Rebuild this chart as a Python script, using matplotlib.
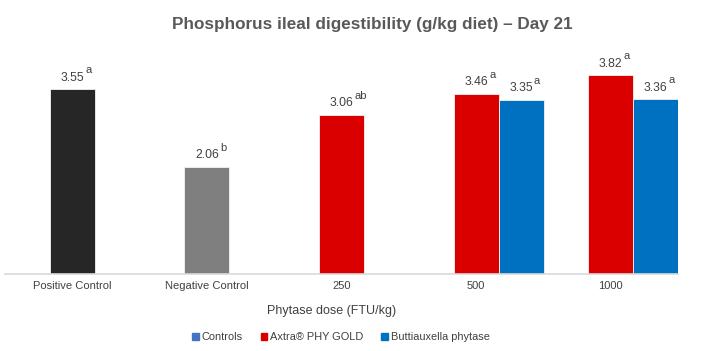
import numpy as np
import matplotlib.pyplot as plt
from matplotlib.patches import Patch

plt.rcParams['font.family'] = ['Liberation Sans', 'DejaVu Sans']

categories = ["Positive Control", "Negative Control", "250", "500", "1000"]
controls = [3.55, 2.06, np.nan, np.nan, np.nan]
controls_sig = ["a", "b", "", "", ""]
axtra = [np.nan, np.nan, 3.06, 3.46, 3.82]
axtra_sig = ["", "", "ab", "a", "a"]
butti = [np.nan, np.nan, np.nan, 3.35, 3.36]
butti_sig = ["", "", "", "a", "a"]

ctrl_colors = ["#262626", "#7f7f7f", "#262626", "#262626", "#262626"]
red = "#da0000"
blue = "#0070c0"
txt = "#404040"

fig = plt.figure(figsize=(7.17, 3.51), dpi=100)
ax = fig.add_axes([5 / 717, 77 / 351, 673 / 717, 218 / 351])

x = np.arange(len(categories))
w = 0.334
edge = dict(edgecolor="#f2f2f2", linewidth=0.6)
ax.bar(x, controls, w, color=ctrl_colors, **edge)
ax.bar(x, axtra, w, color=red, **edge)
ax.bar(x + w, butti, w, color=blue, **edge)


def label(xs, vals, sigs):
    for xi, v, s in zip(xs, vals, sigs):
        if np.isnan(v):
            continue
        ax.annotate(f"{v:.2f}", (xi, v), xytext=(0, 4), textcoords="offset points",
                    ha="center", va="bottom", fontsize=8.7, color=txt)
        ax.annotate(s, (xi, v), xytext=(9.3, 10), textcoords="offset points",
                    ha="left", va="bottom", fontsize=8, color=txt)


label(x, controls, controls_sig)
label(x, axtra, axtra_sig)
label(x + w, butti, butti_sig)

ax.set_xlim(-0.5, len(categories) - 0.5)
ax.set_ylim(0, 4.19)
ax.set_xticks(x)
ax.set_xticklabels(categories, fontsize=8, color=txt)
ax.tick_params(axis="x", length=0, pad=5)
ax.set_yticks([])
for s in ["top", "left", "right"]:
    ax.spines[s].set_visible(False)
ax.spines["bottom"].set_color("#d9d9d9")
ax.spines["bottom"].set_linewidth(1.2)

fig.text(332 / 717, 1 - 311 / 351, "Phytase dose (FTU/kg)", ha="center", va="center",
         fontsize=9, color=txt)
fig.text(372 / 717, 1 - 25 / 351, "Phosphorus ileal digestibility (g/kg diet) \u2013 Day 21",
         ha="center", va="center", fontsize=12.3, fontweight="bold", color="#595959")

handles = [Patch(color="#4472c4"), Patch(color=red), Patch(color=blue)]
fig.legend(handles, ["Controls", "Axtra\u00ae PHY GOLD", "Buttiauxella phytase"],
           loc="center", bbox_to_anchor=(341 / 717, 1 - 337 / 351), ncol=3,
           frameon=False, fontsize=7.9, handlelength=0.6, handleheight=0.6,
           handletextpad=0.3, columnspacing=1.6, labelcolor=txt)

fig.savefig("out.png", dpi=100)
